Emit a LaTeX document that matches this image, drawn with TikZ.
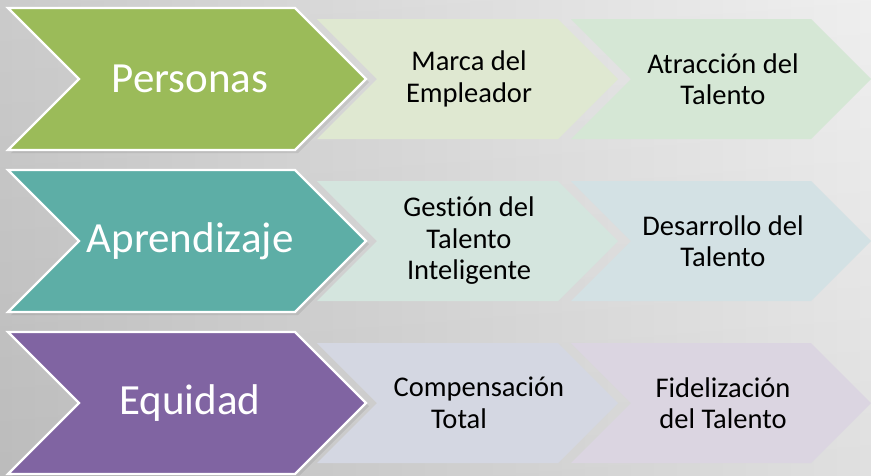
\documentclass[tikz,border=0pt]{standalone}
\usepackage{fontspec}
\setmainfont{Carlito}[Ligatures=NoCommon]
\definecolor{bgdark}{RGB}{200,200,200}
\definecolor{bglight}{RGB}{238,238,238}
\definecolor{cgreen}{HTML}{9BBB59}
\definecolor{cteal}{HTML}{5DAEA6}
\definecolor{cpurple}{HTML}{8064A2}
\definecolor{sOneA}{HTML}{DFE8D1}
\definecolor{sOneB}{HTML}{D5E7D5}
\definecolor{sTwoA}{HTML}{D4E5DE}
\definecolor{sTwoB}{HTML}{D3E1E4}
\definecolor{sThrA}{HTML}{D4D7E2}
\definecolor{sThrB}{HTML}{DBD5E1}
\newcommand\chevpath[4]{(#1,#2-#3) -- ++(#4,0) -- ++(#3,#3) -- ++(-#3,#3) -- ++(-#4,0) -- ++(#3,-#3) -- cycle}
\tikzset{
  bigchev/.style={draw=white, line width=2.2pt, line join=miter},
  shadowchev/.style={fill=black, opacity=0.08},
  bigtxt/.style={text=white, font=\fontsize{43}{50}\selectfont, inner sep=0pt},
  smalltxt/.style={text=black, font=\fontsize{28.5}{31.5}\selectfont, align=center, inner sep=0pt},
}
\begin{document}
\begin{tikzpicture}[x=1pt,y=-1pt]
\useasboundingbox (0,0) rectangle (871,475);
% background
\shade[left color=bgdark, right color=bglight] (0,0) rectangle (871,475);
\shade[top color=white, bottom color=black, opacity=0.06] (0,0) rectangle (871,475);
% secondary chevrons
\fill[sOneA] \chevpath{317}{79}{60}{241};
\fill[sOneB] \chevpath{571}{79}{60}{240};
\fill[sTwoA] \chevpath{317}{241}{60}{241};
\fill[sTwoB] \chevpath{571}{241}{60}{240};
\fill[sThrA] \chevpath{317}{403}{60}{241};
\fill[sThrB] \chevpath{571}{403}{60}{240};
% shadows of the main chevrons
\fill[shadowchev] \chevpath{11}{82}{71}{287};
\fill[shadowchev] \chevpath{11}{244}{71}{287};
\fill[shadowchev] \chevpath{11}{406}{71}{287};
% main chevrons
\filldraw[bigchev, fill=cgreen] \chevpath{8}{79}{71}{287};
\filldraw[bigchev, fill=cteal] \chevpath{8}{241}{71}{287};
\filldraw[bigchev, fill=cpurple] \chevpath{8}{403}{71}{287};
% texts
\node[bigtxt] (personas) at (190,79) {Personas};
\node[bigtxt] (aprend) at (190,241) {Aprendizaje};
\node[bigtxt] (equidad) at (190,403) {Equidad};
\node[smalltxt] (marca) at (469,79) {Marca del\\Empleador};
\node[smalltxt] (atrac) at (723,79) {Atracción del\\Talento};
\node[smalltxt] (gestion) at (469,241) {Gestión del\\Talento\\Inteligente};
\node[smalltxt] (desarr) at (723,241) {Desarrollo del\\Talento};
\node[smalltxt] (compens) at (479,403) {Compensación\\Total\hspace*{40pt}};
\node[smalltxt] (fideliz) at (723,403) {Fidelización\\del Talento};
\end{tikzpicture}
\end{document}
